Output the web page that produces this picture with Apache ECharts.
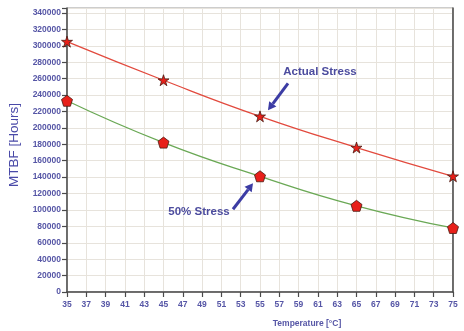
<!DOCTYPE html>
<html><head><meta charset="utf-8">
<script src="https://cdn.jsdelivr.net/npm/echarts@6/dist/echarts.min.js"></script>
<style>html,body{margin:0;padding:0;background:#fff}#c{width:464px;height:331px}</style>
</head><body><div id="c"></div>
<script>
const temperatures = [35, 45, 55, 65, 75];
const actualStress = [305000, 258000, 214000, 176000, 141000];
const halfStress = [233000, 182000, 141000, 105000, 78000];
const xTicks = {min: 35, max: 75, interval: 2};
const yTicks = {min: 0, max: 346000, interval: 20000, lastLabel: 340000};
const labels = {y: 'MTBF [Hours]', x: 'Temperature [°C]', actual: 'Actual Stress', half: '50% Stress'};

const starPath = 'path://M50,0 L61.8,36.2 L100,36.2 L69.1,58.8 L80.9,95.1 L50,72.6 L19.1,95.1 L30.9,58.8 L0,36.2 L38.2,36.2 Z';
const pentPath = 'path://M50,0 L97.6,34.5 L79.4,90.5 L20.6,90.5 L2.4,34.5 Z';
const txtColor = '#5656a6';
const chart = echarts.init(document.getElementById('c'), null, {renderer: 'canvas'});
const gridColor = '#e7e3dc';
function pairs(vals){ return temperatures.map((t,i)=>[t, vals[i]]); }
chart.setOption({
  animation: false,
  backgroundColor: '#fff',
  grid: {left: 67, right: 11, top: 8, bottom: 39, show: true, borderColor: '#9a9a9a', borderWidth: 1, backgroundColor: '#fff'},
  xAxis: {type: 'value', min: xTicks.min, max: xTicks.max, interval: xTicks.interval,
    axisLine: {show: true, onZero: false, lineStyle: {color: '#4a4a4a', width: 1.5}},
    axisTick: {show: true, inside: false, length: 5, lineStyle: {color: '#4a4a4a', width: 1.2}},
    axisLabel: {color: txtColor, fontFamily: 'Liberation Sans', fontWeight: 'bold', fontSize: 8.5, margin: 8},
    splitLine: {show: true, lineStyle: {color: gridColor, width: 1}}
  },
  yAxis: [{type: 'value', min: yTicks.min, max: yTicks.max, interval: yTicks.interval,
    axisLine: {show: true, lineStyle: {color: '#4a4a4a', width: 1.5}},
    axisTick: {show: true, length: 5, lineStyle: {color: '#4a4a4a', width: 1.2}},
    axisLabel: {color: txtColor, fontFamily: 'Liberation Sans', fontWeight: 'bold', fontSize: 8.5, margin: 6,
      formatter: v => v > yTicks.lastLabel ? '' : String(v)},
    splitLine: {show: true, lineStyle: {color: gridColor, width: 1}}
  },{type: 'value', position: 'right', min: yTicks.min, max: yTicks.max,
    axisLine: {show: true, lineStyle: {color: '#4a4a4a', width: 1.5}},
    axisTick: {show: false}, axisLabel: {show: false}, splitLine: {show: false}
  }],
  series: [
    {type: 'line', data: pairs(actualStress), smooth: true, clip: true,
      lineStyle: {color: '#e24a3e', width: 1.3},
      symbol: starPath, symbolSize: 11,
      itemStyle: {color: '#e8201a', borderColor: '#4a1a12', borderWidth: 0.8}, z: 3},
    {type: 'line', data: pairs(halfStress), smooth: true, clip: true,
      lineStyle: {color: '#6aa855', width: 1.3},
      symbol: pentPath, symbolSize: 11,
      itemStyle: {color: '#e8201a', borderColor: '#4a1a12', borderWidth: 0.8}, z: 3}
  ]
});

// annotations positioned relative to the data points
const pA = chart.convertToPixel({gridIndex: 0}, [temperatures[2], actualStress[2]]);
const pH = chart.convertToPixel({gridIndex: 0}, [temperatures[2], halfStress[2]]);
function arrow(tail, head, color){
  const dx = head[0]-tail[0], dy = head[1]-tail[1];
  const L = Math.sqrt(dx*dx+dy*dy), ux = dx/L, uy = dy/L;
  const hl = 8, hw = 4.5;
  const bx = head[0]-ux*hl, by = head[1]-uy*hl;
  return [
    {type: 'line', shape: {x1: tail[0], y1: tail[1], x2: bx, y2: by}, style: {stroke: color, lineWidth: 3}, z: 10},
    {type: 'polygon', shape: {points: [head, [bx - uy*hw, by + ux*hw], [bx + uy*hw, by - ux*hw]]}, style: {fill: color}, z: 10}
  ];
}
const arrowColor = '#3c3ca4';
const g = [];
g.push(...arrow([pA[0]+28, pA[1]-33], [pA[0]+8, pA[1]-6], arrowColor));
g.push(...arrow([pH[0]-27, pH[1]+33], [pH[0]-7, pH[1]+7], arrowColor));
g.push({type: 'text', x: pA[0]+60, y: pA[1]-45, style: {text: labels.actual, fill: '#4c4c9e', font: 'bold 11.5px "Liberation Sans"', align: 'center', verticalAlign: 'middle'}, z: 10});
g.push({type: 'text', x: pH[0]-61, y: pH[1]+36, style: {text: labels.half, fill: '#4c4c9e', font: 'bold 11.5px "Liberation Sans"', align: 'center', verticalAlign: 'middle'}, z: 10});
g.push({type: 'text', x: 14, y: 145, rotation: Math.PI/2, style: {text: labels.y, fill: '#4a4aa8', font: '13.5px "Liberation Sans"', align: 'center', verticalAlign: 'middle'}});
g.push({type: 'text', x: 307, y: 324, style: {text: labels.x, fill: txtColor, font: 'bold 8.5px "Liberation Sans"', align: 'center', verticalAlign: 'middle'}});
chart.setOption({graphic: g});
</script>
</body></html>
